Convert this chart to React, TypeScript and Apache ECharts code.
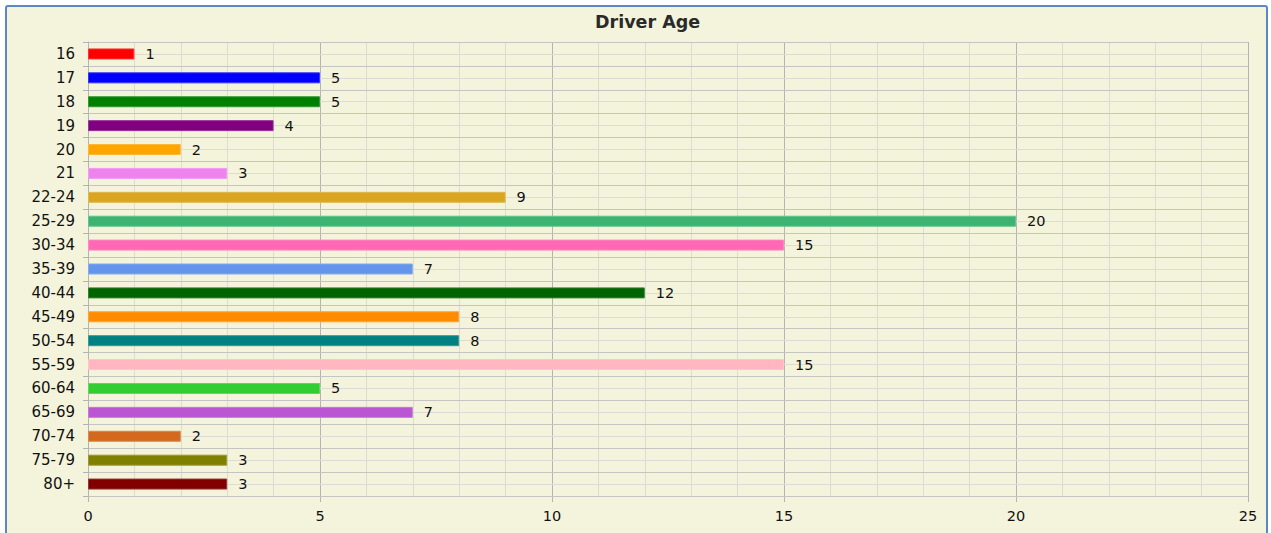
import React, { useEffect, useRef } from "react";
import * as echarts from "echarts";

const categories = ["16", "17", "18", "19", "20", "21", "22-24", "25-29", "30-34", "35-39", "40-44", "45-49", "50-54", "55-59", "60-64", "65-69", "70-74", "75-79", "80+"];
const values = [1, 5, 5, 4, 2, 3, 9, 20, 15, 7, 12, 8, 8, 15, 5, 7, 2, 3, 3];
const colors = ["#ff0000", "#0000ff", "#008000", "#800080", "#ffa500", "#ee82ee", "#daa520", "#3cb371", "#ff69b4", "#6495ed", "#006400", "#ff8c00", "#008080", "#ffb6c1", "#32cd32", "#ba55d3", "#d2691e", "#808000", "#800000"];
const xTicks = [0, 5, 10, 15, 20, 25];

const FONT = "'DejaVu Sans', Verdana, sans-serif";

export default function App() {
  const ref = useRef<HTMLDivElement>(null);
  useEffect(() => {
    if (!ref.current) return;
    const chart = echarts.init(ref.current, null, { renderer: "svg" });
    chart.setOption({
      animation: false,
      backgroundColor: "#ffffff",
      graphic: [
        {
          type: "rect",
          z: -10,
          silent: true,
          shape: { x: 6, y: 6, width: 1261, height: 560, r: 2 },
          style: { fill: "#f4f4dc", stroke: "#5b86c9", lineWidth: 2 },
        },
      ],
      title: {
        text: "Driver Age",
        left: 590,
        top: 8,
        textStyle: { fontFamily: FONT, fontSize: 17.5, fontWeight: "bold", color: "#2a2a2a" },
      },
      grid: { left: 88, right: 23, top: 42, bottom: 37, containLabel: false },
      xAxis: {
        type: "value",
        min: xTicks[0],
        max: xTicks[xTicks.length - 1],
        interval: 5,
        axisLine: { show: true, lineStyle: { color: "#b4b4b4", width: 1 } },
        axisTick: { show: true, length: 6, lineStyle: { color: "#b4b4b4" } },
        axisLabel: { fontFamily: FONT, fontSize: 14.5, color: "#111111", margin: 12 },
        splitLine: { show: true, lineStyle: { color: "#b4b4b4", width: 1 } },
        minorTick: { show: false, splitNumber: 5 },
        minorSplitLine: { show: true, lineStyle: { color: "#dcdcd0", width: 1 } },
      },
      yAxis: [
        {
          type: "category",
          data: categories,
          inverse: true,
          z: 2,
          axisLine: { show: true, lineStyle: { color: "#b4b4b4" } },
          axisTick: { show: true, length: 5, lineStyle: { color: "#b4b4b4" } },
          axisLabel: { fontFamily: FONT, fontSize: 15, color: "#111111", margin: 13 },
          splitLine: { show: true, lineStyle: { color: "#c4c4c0", width: 1 } },
        },
        {
          type: "value",
          min: 0,
          max: categories.length * 2,
          interval: 1,
          z: 1,
          position: "left",
          axisLine: { show: false },
          axisTick: { show: false },
          axisLabel: { show: false },
          splitLine: { show: true, lineStyle: { color: "#dcdcd0", width: 1 } },
        },
      ],
      series: [
        {
          type: "bar",
          yAxisIndex: 0,
          z: 5,
          barWidth: 11,
          data: values.map((v, i) => ({
            value: v,
            itemStyle: {
              color: colors[i],
              borderColor: echarts.color.lift(colors[i], 0.2),
              borderWidth: 1,
            },
          })),
          label: {
            show: true,
            position: "right",
            distance: 11,
            fontFamily: FONT,
            fontSize: 14.5,
            color: "#111111",
          },
        },
      ],
    });
    return () => chart.dispose();
  }, []);
  return (
    <div
      ref={ref}
      style={{ position: "absolute", left: 0, top: 0, width: 1271, height: 533 }}
    />
  );
}
